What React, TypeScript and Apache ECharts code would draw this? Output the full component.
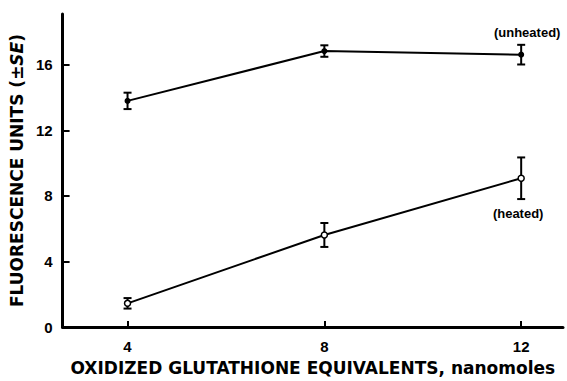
import React, { useEffect, useRef } from "react";
import * as echarts from "echarts";

const xValues = [4, 8, 12];
const unheatedMean = [13.8, 16.84, 16.62];
const unheatedSE = [0.5, 0.35, 0.6];
const heatedMean = [1.45, 5.62, 9.08];
const heatedSE = [0.32, 0.73, 1.27];
const xTicks = [4, 8, 12];
const yTicks = [0, 4, 8, 12, 16];

const FONT = "Liberation Sans";
const TFONT = "DejaVu Sans";

export default function App() {
  const ref = useRef<HTMLDivElement>(null);
  useEffect(() => {
    if (!ref.current) return;
    const chart = echarts.init(ref.current, null, { renderer: "svg" });
    const errData = (m: number[], se: number[]) =>
      xValues.map((x, i) => [x, m[i] - se[i], m[i] + se[i]]);
    const renderErr = (params: any, api: any) => {
      const x = api.value(0);
      const lo = api.coord([x, api.value(1)]);
      const hi = api.coord([x, api.value(2)]);
      const w = 4;
      const style = { stroke: "#000", lineWidth: 2 };
      return {
        type: "group",
        children: [
          { type: "line", shape: { x1: lo[0], y1: lo[1], x2: hi[0], y2: hi[1] }, style },
          { type: "line", shape: { x1: lo[0] - w, y1: lo[1], x2: lo[0] + w, y2: lo[1] }, style },
          { type: "line", shape: { x1: hi[0] - w, y1: hi[1], x2: hi[0] + w, y2: hi[1] }, style },
        ],
      };
    };
    const labelStyle = { color: "#000", fontFamily: FONT, fontSize: 13, fontWeight: "bold" as const };
    chart.setOption({
      animation: false,
      backgroundColor: "#fff",
      grid: { left: 62, right: 4, top: 14, bottom: 48 },
      xAxis: {
        type: "value",
        min: 2.68,
        max: 12.85,
        axisLine: { lineStyle: { color: "#000", width: 3 } },
        axisTick: { show: true, inside: true, length: 6, lineStyle: { color: "#000", width: 2 }, customValues: xTicks },
        axisLabel: { customValues: xTicks, color: "#000", fontFamily: FONT, fontSize: 15, fontWeight: "bold", margin: 12 },
        splitLine: { show: false },
        name: "OXIDIZED GLUTATHIONE EQUIVALENTS, nanomoles",
        nameLocation: "middle",
        nameGap: 31,
        nameTextStyle: { color: "#000", fontFamily: TFONT, fontSize: 17, fontWeight: "bold" },
      },
      yAxis: {
        type: "value",
        min: 0,
        max: 19.1,
        axisLine: { lineStyle: { color: "#000", width: 3 } },
        axisTick: { show: true, inside: true, length: 7, lineStyle: { color: "#000", width: 2 }, customValues: yTicks },
        axisLabel: { customValues: yTicks, color: "#000", fontFamily: FONT, fontSize: 15, fontWeight: "bold", margin: 10 },
        splitLine: { show: false },
        name: "FLUORESCENCE UNITS (\u00B1{i|SE})",
        nameLocation: "middle",
        nameGap: 34,
        nameTextStyle: {
          color: "#000", fontFamily: TFONT, fontSize: 17, fontWeight: "bold",
          rich: { i: { fontStyle: "italic", color: "#000", fontFamily: TFONT, fontSize: 17, fontWeight: "bold" } },
        },
      },
      series: [
        {
          type: "line",
          data: xValues.map((x, i) => {
            const d: any = { value: [x, unheatedMean[i]] };
            if (i === xValues.length - 1)
              d.label = { show: true, position: "top", offset: [6, -8], formatter: "(unheated)", ...labelStyle };
            return d;
          }),
          symbol: "circle",
          symbolSize: 6,
          itemStyle: { color: "#000" },
          lineStyle: { color: "#000", width: 2 },
          z: 3,
        },
        {
          type: "line",
          data: xValues.map((x, i) => {
            const d: any = { value: [x, heatedMean[i]] };
            if (i === xValues.length - 1)
              d.label = { show: true, position: "bottom", offset: [-3, 20], formatter: "(heated)", ...labelStyle };
            return d;
          }),
          symbol: "circle",
          symbolSize: 6,
          itemStyle: { color: "#fff", borderColor: "#000", borderWidth: 1.5 },
          lineStyle: { color: "#000", width: 2 },
          z: 3,
        },
        { type: "custom", renderItem: renderErr, data: errData(unheatedMean, unheatedSE), z: 2 },
        { type: "custom", renderItem: renderErr, data: errData(heatedMean, heatedSE), z: 2 },
      ],
    });
    return () => chart.dispose();
  }, []);
  return (
    <div
      ref={ref}
      style={{ position: "fixed", left: 0, top: 0, width: 567, height: 381, background: "#fff" }}
    />
  );
}
